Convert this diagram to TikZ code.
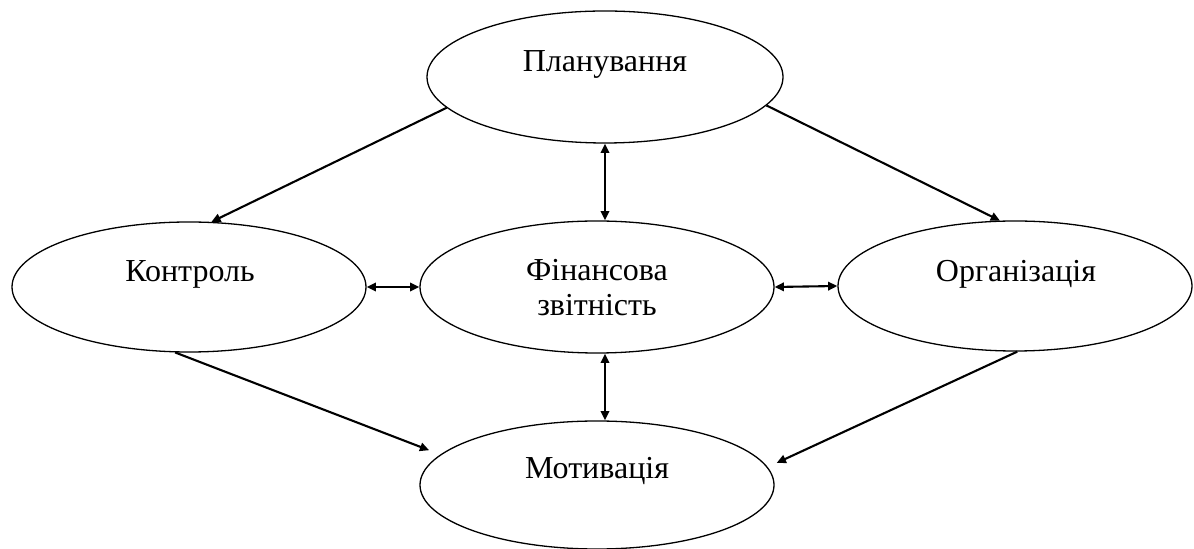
\documentclass[tikz,border=0pt]{standalone}
\usepackage{fontspec}
\setmainfont{Liberation Serif}
\usetikzlibrary{shapes.geometric,arrows.meta}
\tikzset{
  oval/.style={ellipse, draw, line width=0.65pt, inner sep=0pt},
  lbl/.style={font=\fontsize{16pt}{17.5pt}\selectfont, inner sep=0pt},
  conn/.style={line width=1.05pt, -{Triangle[length=4.6pt,width=4.2pt]}},
  biconn/.style={line width=1.05pt, {Triangle[length=4.6pt,width=4.2pt]}-{Triangle[length=4.6pt,width=4.2pt]}}
}
\begin{document}
\begin{tikzpicture}[x=0.5pt,y=-0.5pt]
\useasboundingbox (0,0) rectangle (1194,549);
% ovals
\node[oval, minimum width=178pt, minimum height=66pt] (plan) at (605,77) {};
\node[oval, minimum width=177pt, minimum height=65pt] (kontr) at (189,287) {};
\node[oval, minimum width=177pt, minimum height=66pt] (fin) at (597,287) {};
\node[oval, minimum width=177pt, minimum height=65pt] (org) at (1015,286) {};
\node[oval, minimum width=177pt, minimum height=64pt] (mot) at (597,485) {};
% labels
\node[lbl, anchor=base] (plant) at (605,72) {Планування};
\node[lbl, anchor=base] (kontrt) at (190,282) {Контроль};
\node[lbl, align=center] (fint) at (597,288) {Фінансова\\звітність};
\node[lbl, anchor=base] (orgt) at (1016,282) {Організація};
\node[lbl, anchor=base] (mott) at (597,479) {Мотивація};
% connectors
\draw[conn] (plan.191) -- (kontr.71);
\draw[conn] (plan.350) -- (org.103);
\draw[conn, shorten >=6pt] (kontr.258) -- (mot.169);
\draw[conn, shorten >=5pt] (org.272) -- (mot.6);
\draw[biconn] (plan.south) -- (fin.north -| plan.south);
\draw[biconn] (fin.south -| plan.south) -- (mot.north -| plan.south);
\draw[biconn] (kontr.east) -- (fin.west);
\draw[biconn] (fin.east) -- (org.west);
\end{tikzpicture}
\end{document}
